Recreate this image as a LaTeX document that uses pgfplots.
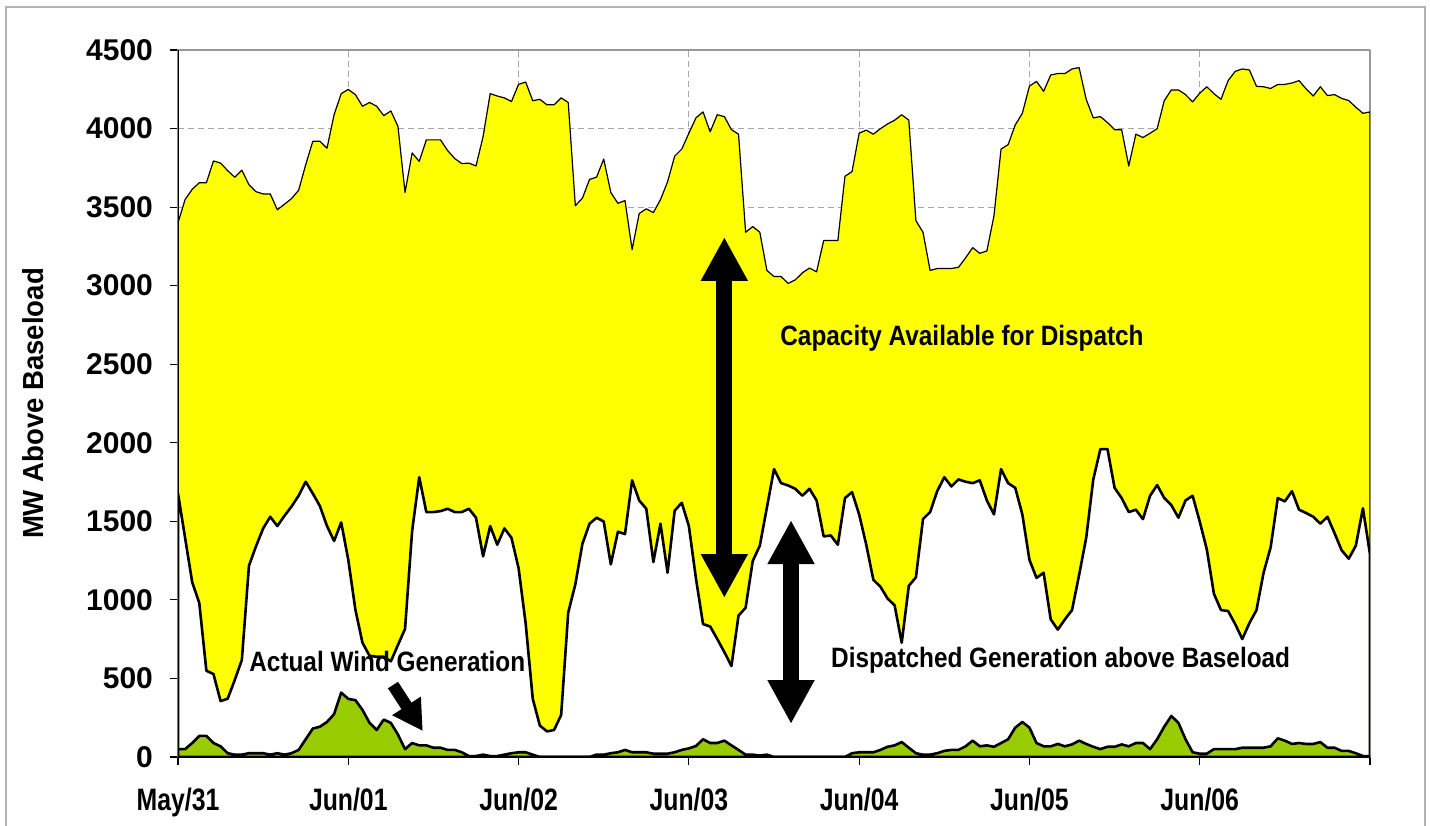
\documentclass[border=0pt]{standalone}
\usepackage{fontspec}
\setmainfont{Liberation Sans}
\usepackage{graphicx}
\usepackage{pgfplots}
\usepackage{pgfplotstable}
\pgfplotsset{compat=1.18}
\usetikzlibrary{arrows.meta}
\definecolor{windgreen}{HTML}{99CC00}
\definecolor{capyellow}{HTML}{FFFF00}

\pgfplotstableread{
h U L W
0 3400 1677 50
1 3548 1395 50
2 3613 1113 89
3 3655 980 134
4 3655 549 134
5 3794 528 89
6 3780 356 68
7 3732 371 24
8 3690 490 15
9 3735 618 15
10 3643 1217 24
11 3598 1342 24
12 3584 1455 24
13 3584 1529 15
14 3483 1470 24
15 3518 1535 15
16 3554 1594 24
17 3607 1663 45
18 3770 1752 113
19 3919 1677 181
20 3919 1597 193
21 3875 1470 223
22 4088 1375 273
23 4222 1493 410
24 4249 1255 370
25 4216 938 362
26 4142 727 300
27 4166 644 217
28 4142 638 172
29 4082 638 238
30 4112 609 217
31 4014 713 143
32 3593 816 50
33 3845 1440 89
34 3791 1781 74
35 3928 1559 74
36 3928 1559 59
37 3928 1565 59
38 3860 1580 45
39 3809 1559 45
40 3777 1559 30
41 3780 1580 6
42 3762 1523 6
43 3949 1277 15
44 4222 1470 6
45 4207 1351 6
46 4195 1455 15
47 4172 1395 24
48 4281 1202 30
49 4296 850 30
50 4177 370 15
51 4186 200 0
52 4151 163 0
53 4151 172 0
54 4195 267 0
55 4166 920 0
56 3509 1099 0
57 3557 1357 0
58 3676 1485 0
59 3691 1523 15
60 3806 1499 15
61 3593 1226 24
62 3524 1434 30
63 3542 1419 45
64 3230 1761 30
65 3459 1633 30
66 3489 1580 30
67 3465 1241 21
68 3548 1485 21
69 3661 1173 21
70 3824 1568 30
71 3869 1618 45
72 3970 1470 55
73 4068 1136 70
74 4106 846 113
75 3979 831 89
76 4088 751 89
77 4076 668 104
78 3993 579 74
79 3964 900 45
80 3340 950 15
81 3376 1247 15
82 3340 1345 9
83 3097 1588 15
84 3058 1832 0
85 3058 1743 0
86 3014 1728 0
87 3037 1707 0
88 3082 1663 0
89 3112 1707 0
90 3088 1633 0
91 3287 1404 0
92 3287 1410 0
93 3287 1351 0
94 3696 1648 0
95 3726 1686 24
96 3970 1544 30
97 3990 1351 30
98 3964 1128 30
99 3999 1084 45
100 4029 1009 65
101 4053 965 74
102 4088 727 95
103 4053 1090 59
104 3414 1143 24
105 3340 1514 15
106 3097 1559 15
107 3109 1692 24
108 3109 1781 39
109 3109 1722 45
110 3117 1767 45
111 3177 1752 68
112 3242 1743 104
113 3206 1761 68
114 3221 1633 74
115 3444 1544 65
116 3869 1832 89
117 3898 1743 113
118 4023 1713 187
119 4097 1544 223
120 4270 1255 187
121 4300 1140 89
122 4237 1173 68
123 4341 876 68
124 4350 811 83
125 4350 876 68
126 4379 935 80
127 4388 1158 104
128 4186 1395 83
129 4068 1767 65
130 4076 1960 50
131 4038 1960 65
132 3993 1713 65
133 3993 1648 80
134 3762 1559 68
135 3964 1574 89
136 3943 1514 89
137 3970 1663 50
138 3999 1731 113
139 4177 1648 193
140 4246 1603 261
141 4246 1523 217
142 4216 1633 113
143 4170 1663 30
144 4225 1499 21
145 4266 1321 21
146 4222 1039 50
147 4186 935 50
148 4305 929 50
149 4364 846 50
150 4379 751 59
151 4373 852 59
152 4269 935 59
153 4266 1173 59
154 4255 1336 68
155 4281 1648 119
156 4281 1627 104
157 4290 1692 83
158 4305 1574 89
159 4252 1553 83
160 4207 1529 83
161 4266 1485 95
162 4210 1529 59
163 4216 1425 59
164 4192 1316 39
165 4178 1262 39
166 4136 1345 24
167 4097 1583 6
168 4106 1290 6
}\data

\begin{document}
\begin{tikzpicture}
\path[use as bounding box] (0,0) rectangle (715pt,412.5pt);
\draw[gray!60, line width=0.8pt] (3pt,-2pt) -- (3pt,409pt) -- (712.5pt,409pt) -- (712.5pt,-2pt);
\begin{axis}[
  at={(89pt,34pt)}, anchor=south west,
  scale only axis, width=596pt, height=353.5pt,
  xmin=0, xmax=168, ymin=0, ymax=4500,
  xtick={0,24,...,168},
  xticklabels={\scalebox{0.8}[1]{May/31},\scalebox{0.8}[1]{Jun/01},\scalebox{0.8}[1]{Jun/02},\scalebox{0.8}[1]{Jun/03},\scalebox{0.8}[1]{Jun/04},\scalebox{0.8}[1]{Jun/05},\scalebox{0.8}[1]{Jun/06},{}},
  ytick={0,500,...,4500},
  tick pos=left,
  grid=major,
  major grid style={gray!70, dash pattern=on 3pt off 2pt, line width=0.5pt},
  axis line style={gray!80, line width=0.8pt},
  tick align=outside, major tick length=4pt,
  tick style={black, line width=0.6pt},
  /pgf/number format/assume math mode=true,
  /pgf/number format/1000 sep={},
  yticklabel style={font=\fontsize{15}{17}\selectfont\bfseries, xshift=-5pt},
  xticklabel style={font=\fontsize{15.5}{17}\selectfont\bfseries, yshift=-8pt},
  ylabel={\scalebox{0.95}[1]{MW Above Baseload}},
  ylabel style={font=\fontsize{14.5}{16}\selectfont\bfseries, at={(axis description cs:-0.1216,0.5)}, anchor=center},
  line join=round,
]
\addplot[draw=black, line width=0.6pt, fill=capyellow] table[x=h,y=U]{\data} \closedcycle;
\addplot[draw=black, line width=1.3pt, fill=white] table[x=h,y=L]{\data} \closedcycle;
\addplot[draw=black, line width=1.3pt, fill=windgreen] table[x=h,y=W]{\data} \closedcycle;
\draw[black, line width=0.8pt] (rel axis cs:0,1) -- (rel axis cs:0,0) -- (rel axis cs:1,0);
\draw[line width=8pt, {Triangle[width=22pt,length=22pt]}-{Triangle[width=22pt,length=22pt]}] (axis cs:77,3310) -- (axis cs:77,1012);
\draw[line width=8pt, {Triangle[width=22pt,length=22pt]}-{Triangle[width=22pt,length=22pt]}] (axis cs:86.4,1508) -- (axis cs:86.4,210);
\draw[line width=6pt, -{Triangle[width=16pt,length=15pt]}] (axis cs:30.3,458) -- (axis cs:34.5,165);
\node[font=\fontsize{14}{16}\selectfont\bfseries] at (axis cs:110.5,2667) {\scalebox{0.87}[1]{Capacity Available for Dispatch}};
\node[font=\fontsize{14}{16}\selectfont\bfseries] at (axis cs:124.4,617) {\scalebox{0.87}[1]{Dispatched Generation above Baseload}};
\node[font=\fontsize{14}{16}\selectfont\bfseries] at (axis cs:29.5,605) {\scalebox{0.87}[1]{Actual Wind Generation}};
\end{axis}
\end{tikzpicture}
\end{document}
